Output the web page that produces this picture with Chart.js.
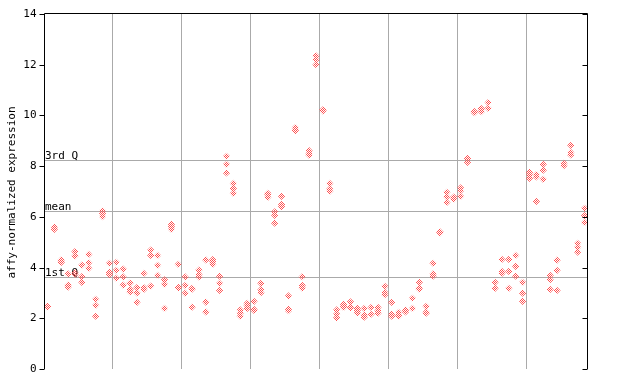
<!DOCTYPE html>
<html>
<head>
<meta charset="utf-8">
<script src="https://cdn.jsdelivr.net/npm/chart.js@4/dist/chart.umd.min.js"></script>
<style>
html,body{margin:0;padding:0;background:#fff;}
#wrap{width:640px;height:384px;position:relative;}
</style>
</head>
<body>
<div id="wrap"><canvas id="c" width="640" height="384"></canvas></div>
<script>
// ---- data ----
const yTickValues = [0, 2, 4, 6, 8, 10, 12, 14];
const yTitle = 'affy-normalized expression';
const statLabels = ['3rd Q', 'mean', '1st Q'];
const statValues = [8.23, 6.22, 3.63];
const groupSize = 10;
const sampleValues = [
  [2.46, 2.44, 2.48],
  [5.60, 5.51],
  [4.30, 4.24, 4.20],
  [3.75, 3.31, 3.23],
  [4.63, 4.46, 3.80, 3.73],
  [4.10, 3.64, 3.42],
  [4.52, 4.19, 3.97],
  [2.75, 2.51, 2.08],
  [6.24, 6.14, 6.01],
  [4.17, 3.81, 3.73],
  [4.21, 3.89, 3.58],
  [3.94, 3.63, 3.31],
  [3.39, 3.14, 3.04],
  [3.21, 3.00, 2.63],
  [3.77, 3.21, 3.14],
  [4.69, 4.48, 3.27],
  [4.48, 4.09, 3.69],
  [3.52, 3.34, 2.39],
  [5.71, 5.61, 5.51],
  [4.13, 3.22, 3.20],
  [3.63, 3.30, 2.99],
  [3.18, 3.15, 2.44],
  [3.90, 3.73, 3.63],
  [4.30, 2.64, 2.25],
  [4.31, 4.23, 4.13],
  [3.66, 3.38, 3.10],
  [8.39, 8.07, 7.73],
  [7.32, 7.12, 6.93],
  [2.33, 2.21, 2.08],
  [2.59, 2.50, 2.39],
  [2.67, 2.35, 2.31],
  [3.38, 3.13, 3.01],
  [6.93, 6.89, 6.77],
  [6.20, 6.06, 5.75],
  [6.81, 6.49, 6.40],
  [2.88, 2.36, 2.30],
  [9.52, 9.44, 9.40],
  [3.64, 3.30, 3.19],
  [8.61, 8.50, 8.43],
  [12.35, 12.20, 12.00],
  [10.22, 10.18, 10.20],
  [7.32, 7.10, 7.01],
  [2.33, 2.17, 2.02],
  [2.55, 2.47, 2.43],
  [2.65, 2.45, 2.41],
  [2.39, 2.30, 2.21],
  [2.39, 2.13, 2.04],
  [2.43, 2.16],
  [2.43, 2.30, 2.20],
  [3.26, 3.02, 2.93],
  [2.63, 2.17, 2.08],
  [2.23, 2.12, 2.08],
  [2.33, 2.28, 2.25],
  [2.79, 2.39],
  [3.42, 3.19, 3.15],
  [2.47, 2.24, 2.20],
  [4.17, 3.75, 3.66],
  [5.41, 5.37, 5.39],
  [6.97, 6.79, 6.57],
  [6.78, 6.70],
  [7.14, 7.03, 6.81],
  [8.31, 8.27, 8.15],
  [10.15, 10.11, 10.13],
  [10.27, 10.23, 10.15],
  [10.51, 10.28],
  [3.42, 3.18],
  [4.32, 3.85, 3.77],
  [4.32, 3.85, 3.18],
  [4.48, 4.05, 3.66],
  [3.42, 2.99, 2.67],
  [7.76, 7.65, 7.52],
  [7.67, 7.58, 6.61],
  [8.07, 7.84, 7.48],
  [3.69, 3.52, 3.14],
  [4.29, 3.89, 3.10],
  [8.11, 8.02],
  [8.82, 8.54, 8.44],
  [4.96, 4.80, 4.61],
  [6.34, 6.05, 5.78]
];

// ---- build ----
const points = [];
sampleValues.forEach((vals, i) => vals.forEach(v => points.push({x: i, y: v})));
const nSamples = sampleValues.length;

const FONT = 'DejaVu Sans Mono';
const RED = 'rgb(255,80,80)';
const canvas = document.getElementById('c');
const pc = document.createElement('canvas');
pc.width = 2; pc.height = 2;
const pctx = pc.getContext('2d');
pctx.fillStyle = RED;
pctx.fillRect(0, 0, 1, 1);
pctx.fillRect(1, 1, 1, 1);
const checker = canvas.getContext('2d').createPattern(pc, 'repeat');

const framePlugin = {
  id: 'frame',
  beforeDatasetsDraw(chart) {
    const {ctx, chartArea: a, scales} = chart;
    ctx.save();
    ctx.strokeStyle = '#aaaaaa';
    ctx.lineWidth = 1;
    statValues.forEach(v => {
      const y = Math.round(scales.y.getPixelForValue(v)) + 0.5;
      ctx.beginPath(); ctx.moveTo(a.left, y); ctx.lineTo(a.right, y); ctx.stroke();
    });
    ctx.fillStyle = '#000';
    ctx.font = '11px "' + FONT + '"';
    ctx.textAlign = 'left';
    ctx.textBaseline = 'alphabetic';
    statValues.forEach((v, k) => {
      const y = Math.round(scales.y.getPixelForValue(v));
      ctx.fillText(statLabels[k], a.left + 1, y - 1);
    });
    ctx.restore();
  },
  afterDraw(chart) {
    const {ctx, chartArea: a, scales} = chart;
    ctx.save();
    ctx.strokeStyle = '#000';
    ctx.lineWidth = 1;
    const L = Math.round(a.left) + 0.5, R = Math.round(a.right) - 0.5, T = Math.round(a.top) - 0.5, B = Math.round(a.bottom);
    ctx.beginPath();
    ctx.moveTo(L, B); ctx.lineTo(L, T); ctx.lineTo(R, T); ctx.lineTo(R, B);
    ctx.stroke();
    yTickValues.forEach(v => {
      const y = Math.round(scales.y.getPixelForValue(v)) + 0.5;
      ctx.beginPath(); ctx.moveTo(L - 5, y); ctx.lineTo(L, y); ctx.stroke();
      ctx.beginPath(); ctx.moveTo(R - 5, y); ctx.lineTo(R, y); ctx.stroke();
    });
    ctx.fillStyle = '#000';
    ctx.font = '11px "' + FONT + '"';
    ctx.textAlign = 'right';
    ctx.textBaseline = 'middle';
    yTickValues.forEach(v => {
      const y = Math.round(scales.y.getPixelForValue(v)) + 0.5;
      ctx.fillText(String(v), L - 8, y);
    });
    ctx.translate(12, (a.top + a.bottom) / 2 + 1);
    ctx.rotate(-Math.PI / 2);
    ctx.textAlign = 'center';
    ctx.fillText(yTitle, 0, 0);
    ctx.restore();
  }
};

new Chart(canvas, {
  type: 'scatter',
  data: {
    datasets: [{
      data: points,
      pointStyle: 'rectRot',
      pointRadius: 3.6,
      pointBackgroundColor: checker,
      pointBorderWidth: 0,
      pointBorderColor: 'rgba(0,0,0,0)',
      pointHoverRadius: 3.6
    }]
  },
  options: {
    responsive: false,
    animation: false,
    events: [],
    layout: {padding: {left: 0, right: 52, top: 14, bottom: 15}},
    plugins: {legend: {display: false}, tooltip: {enabled: false}, title: {display: false}},
    scales: {
      x: {
        type: 'linear',
        min: -0.5,
        max: nSamples - 0.5,
        afterBuildTicks(scale) {
          const t = [];
          for (let k = groupSize; k < nSamples; k += groupSize) t.push({value: k - 0.5});
          scale.ticks = t;
        },
        afterFit(scale) { scale.height = 0; },
        ticks: {display: false},
        border: {display: false},
        grid: {color: '#aaaaaa', lineWidth: 1, drawTicks: false}
      },
      y: {
        min: 0,
        max: 14,
        afterFit(scale) { scale.width = 44; },
        ticks: {display: false, stepSize: 2},
        border: {display: false},
        grid: {display: false}
      }
    }
  },
  plugins: [framePlugin]
});
</script>
</body>
</html>
